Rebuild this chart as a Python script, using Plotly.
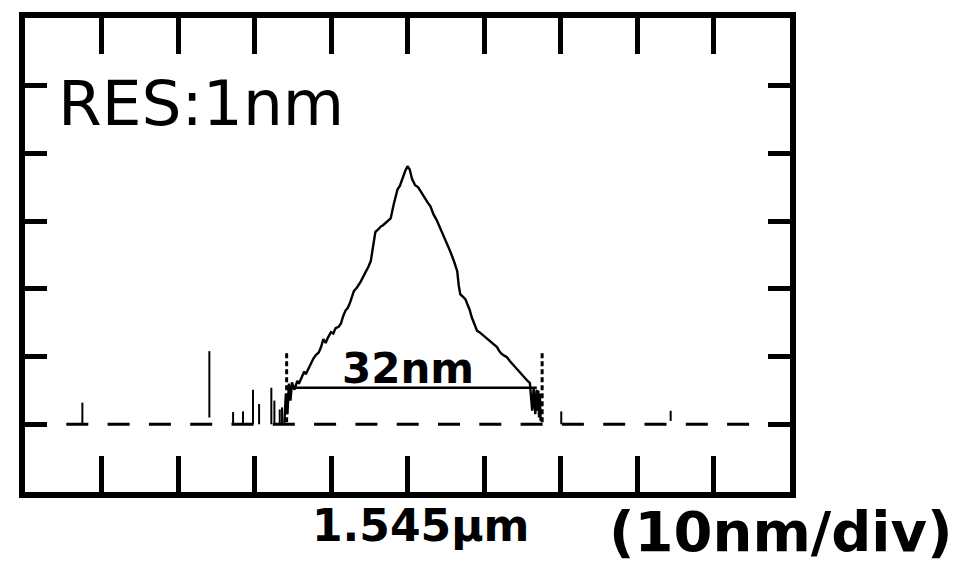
import plotly.graph_objects as go

# ---------------- data ----------------
# wavelength in nm, intensity in divisions above the noise floor
peak_wl = [1528.9, 1529.1, 1529.3, 1529.5, 1529.7, 1529.9, 1530.2, 1530.6, 1530.8, 1531.1,
           1531.5, 1531.7, 1532.0, 1532.4, 1532.7, 1533.0, 1533.4, 1533.7, 1534.0, 1534.3,
           1534.6, 1535.0, 1535.3, 1535.6, 1536.0, 1536.3, 1536.6, 1536.9, 1537.2, 1537.5,
           1538.0, 1538.4, 1538.9, 1539.2, 1539.6, 1539.9, 1540.2, 1540.5, 1540.8, 1541.2,
           1541.5, 1541.8, 1542.2, 1542.5, 1542.8, 1543.2, 1543.5, 1543.7, 1544.0, 1544.3,
           1544.7, 1545.0, 1545.3, 1545.6, 1546.0, 1546.4, 1546.8, 1547.2, 1547.6, 1548.0,
           1548.4, 1548.8, 1549.3, 1549.7, 1550.0, 1550.3, 1550.6, 1551.1, 1551.5, 1551.7,
           1551.9, 1552.3, 1552.6, 1552.8, 1553.1, 1553.4, 1553.8, 1554.1, 1554.4, 1554.7,
           1555.0, 1555.3, 1555.7, 1556.0, 1556.4, 1556.7, 1557.0, 1557.3, 1557.7, 1558.0,
           1558.4, 1558.8, 1559.2, 1559.7, 1560.0, 1560.3, 1560.7, 1561.0, 1561.3, 1561.5,
           1561.7, 1561.9, 1562.0, 1562.1, 1562.2, 1562.3, 1562.4]
peak_int = [0.02, 0.45, 0.15, 0.60, 0.35, 0.62, 0.51, 0.64, 0.60, 0.68,
            0.78, 0.74, 0.82, 0.90, 0.97, 1.02, 1.06, 1.14, 1.26, 1.20,
            1.28, 1.36, 1.34, 1.42, 1.44, 1.49, 1.60, 1.68, 1.72, 1.80,
            1.97, 2.02, 2.11, 2.17, 2.26, 2.33, 2.41, 2.62, 2.84, 2.88,
            2.92, 2.94, 2.98, 3.00, 3.04, 3.25, 3.36, 3.47, 3.52, 3.62,
            3.74, 3.81, 3.76, 3.62, 3.53, 3.50, 3.42, 3.36, 3.28, 3.22,
            3.10, 3.02, 2.89, 2.80, 2.72, 2.64, 2.55, 2.40, 2.26, 2.05,
            1.92, 1.88, 1.84, 1.78, 1.70, 1.58, 1.48, 1.38, 1.36, 1.33,
            1.30, 1.28, 1.24, 1.20, 1.17, 1.14, 1.08, 1.04, 1.01, 0.99,
            0.93, 0.88, 0.83, 0.76, 0.72, 0.68, 0.64, 0.61, 0.20, 0.55,
            0.15, 0.51, 0.20, 0.50, 0.10, 0.45, 0.05]

# noise spikes: wavelength, top, bottom
spike_wl = [1502.5, 1519.1, 1522.2, 1523.5, 1524.8, 1525.6, 1527.2, 1527.6, 1528.3, 1528.6,
            1565.1, 1579.4]
spike_top = [0.32, 1.08, 0.18, 0.19, 0.51, 0.30, 0.54, 0.35, 0.22, 0.25, 0.19, 0.20]
spike_bot = [0.00, 0.10, 0.00, 0.00, 0.00, 0.00, 0.00, 0.00, 0.00, 0.00, 0.00, 0.05]

# width marker
width_wl = [1529.8, 1561.9]
width_level = 0.54
marker_wl = [1529.2, 1562.6]
marker_lo, marker_hi = 0.03, 1.05

x_range = [1495, 1595]
y_range = [-1, 6]
x_ticks = [1505, 1515, 1525, 1535, 1545, 1555, 1565, 1575, 1585]
y_ticks = [0, 1, 2, 3, 4, 5]

fig = go.Figure()

# dashed noise floor
fig.add_trace(go.Scatter(x=x_range, y=[0, 0], mode="lines",
                         line=dict(color="black", width=3, dash="22px,19.3px")))

# noise spikes
sx, sy = [], []
for w, t, b in zip(spike_wl, spike_top, spike_bot):
    sx += [w, w, None]
    sy += [b, t, None]
fig.add_trace(go.Scatter(x=sx, y=sy, mode="lines", line=dict(color="black", width=2)))

# spectrum peak
fig.add_trace(go.Scatter(x=peak_wl, y=peak_int, mode="lines",
                         line=dict(color="black", width=2.4)))

# width bar
fig.add_trace(go.Scatter(x=width_wl, y=[width_level] * 2, mode="lines",
                         line=dict(color="black", width=2.5)))

# dotted end markers
mx, my = [], []
for w in marker_wl:
    mx += [w, w, None]
    my += [marker_lo, marker_hi, None]
fig.add_trace(go.Scatter(x=mx, y=my, mode="lines",
                         line=dict(color="black", width=3, dash="5px,3px")))

fig.update_layout(
    width=971, height=567, showlegend=False,
    margin=dict(l=25, r=181, t=18, b=75),
    paper_bgcolor="white", plot_bgcolor="white",
    font=dict(family="DejaVu Sans", color="black"),
)
fig.update_xaxes(range=x_range, showline=True, linewidth=6, linecolor="black",
                 mirror="ticks", ticks="inside", ticklen=36, tickwidth=5, tickcolor="black",
                 tickvals=x_ticks, showticklabels=False, showgrid=False, zeroline=False)
fig.update_yaxes(range=y_range, showline=True, linewidth=6, linecolor="black",
                 mirror="ticks", ticks="inside", ticklen=22, tickwidth=5, tickcolor="black",
                 tickvals=y_ticks, showticklabels=False, showgrid=False, zeroline=False)

fig.add_annotation(x=1499.0, y=4.74, xref="x", yref="y", text="RES:1nm", showarrow=False,
                   xanchor="left", yanchor="middle",
                   font=dict(family="DejaVu Sans", size=63, color="black"))
fig.add_annotation(x=1545.1, y=0.82, xref="x", yref="y", text="<b>32nm</b>", showarrow=False,
                   xanchor="center", yanchor="middle",
                   font=dict(family="DejaVu Sans", size=42, color="black"))
fig.add_annotation(x=0.5176, y=-0.0717, xref="paper", yref="paper", text="<b>1.545µm</b>",
                   showarrow=False, xanchor="center", yanchor="middle",
                   font=dict(family="DejaVu Sans", size=44, color="black"))
fig.add_annotation(x=0.988, y=-0.0835, xref="paper", yref="paper", text="<b>(10nm/div)</b>",
                   showarrow=False, xanchor="center", yanchor="middle",
                   font=dict(family="DejaVu Sans", size=56, color="black"))

fig.write_html("out.html")
